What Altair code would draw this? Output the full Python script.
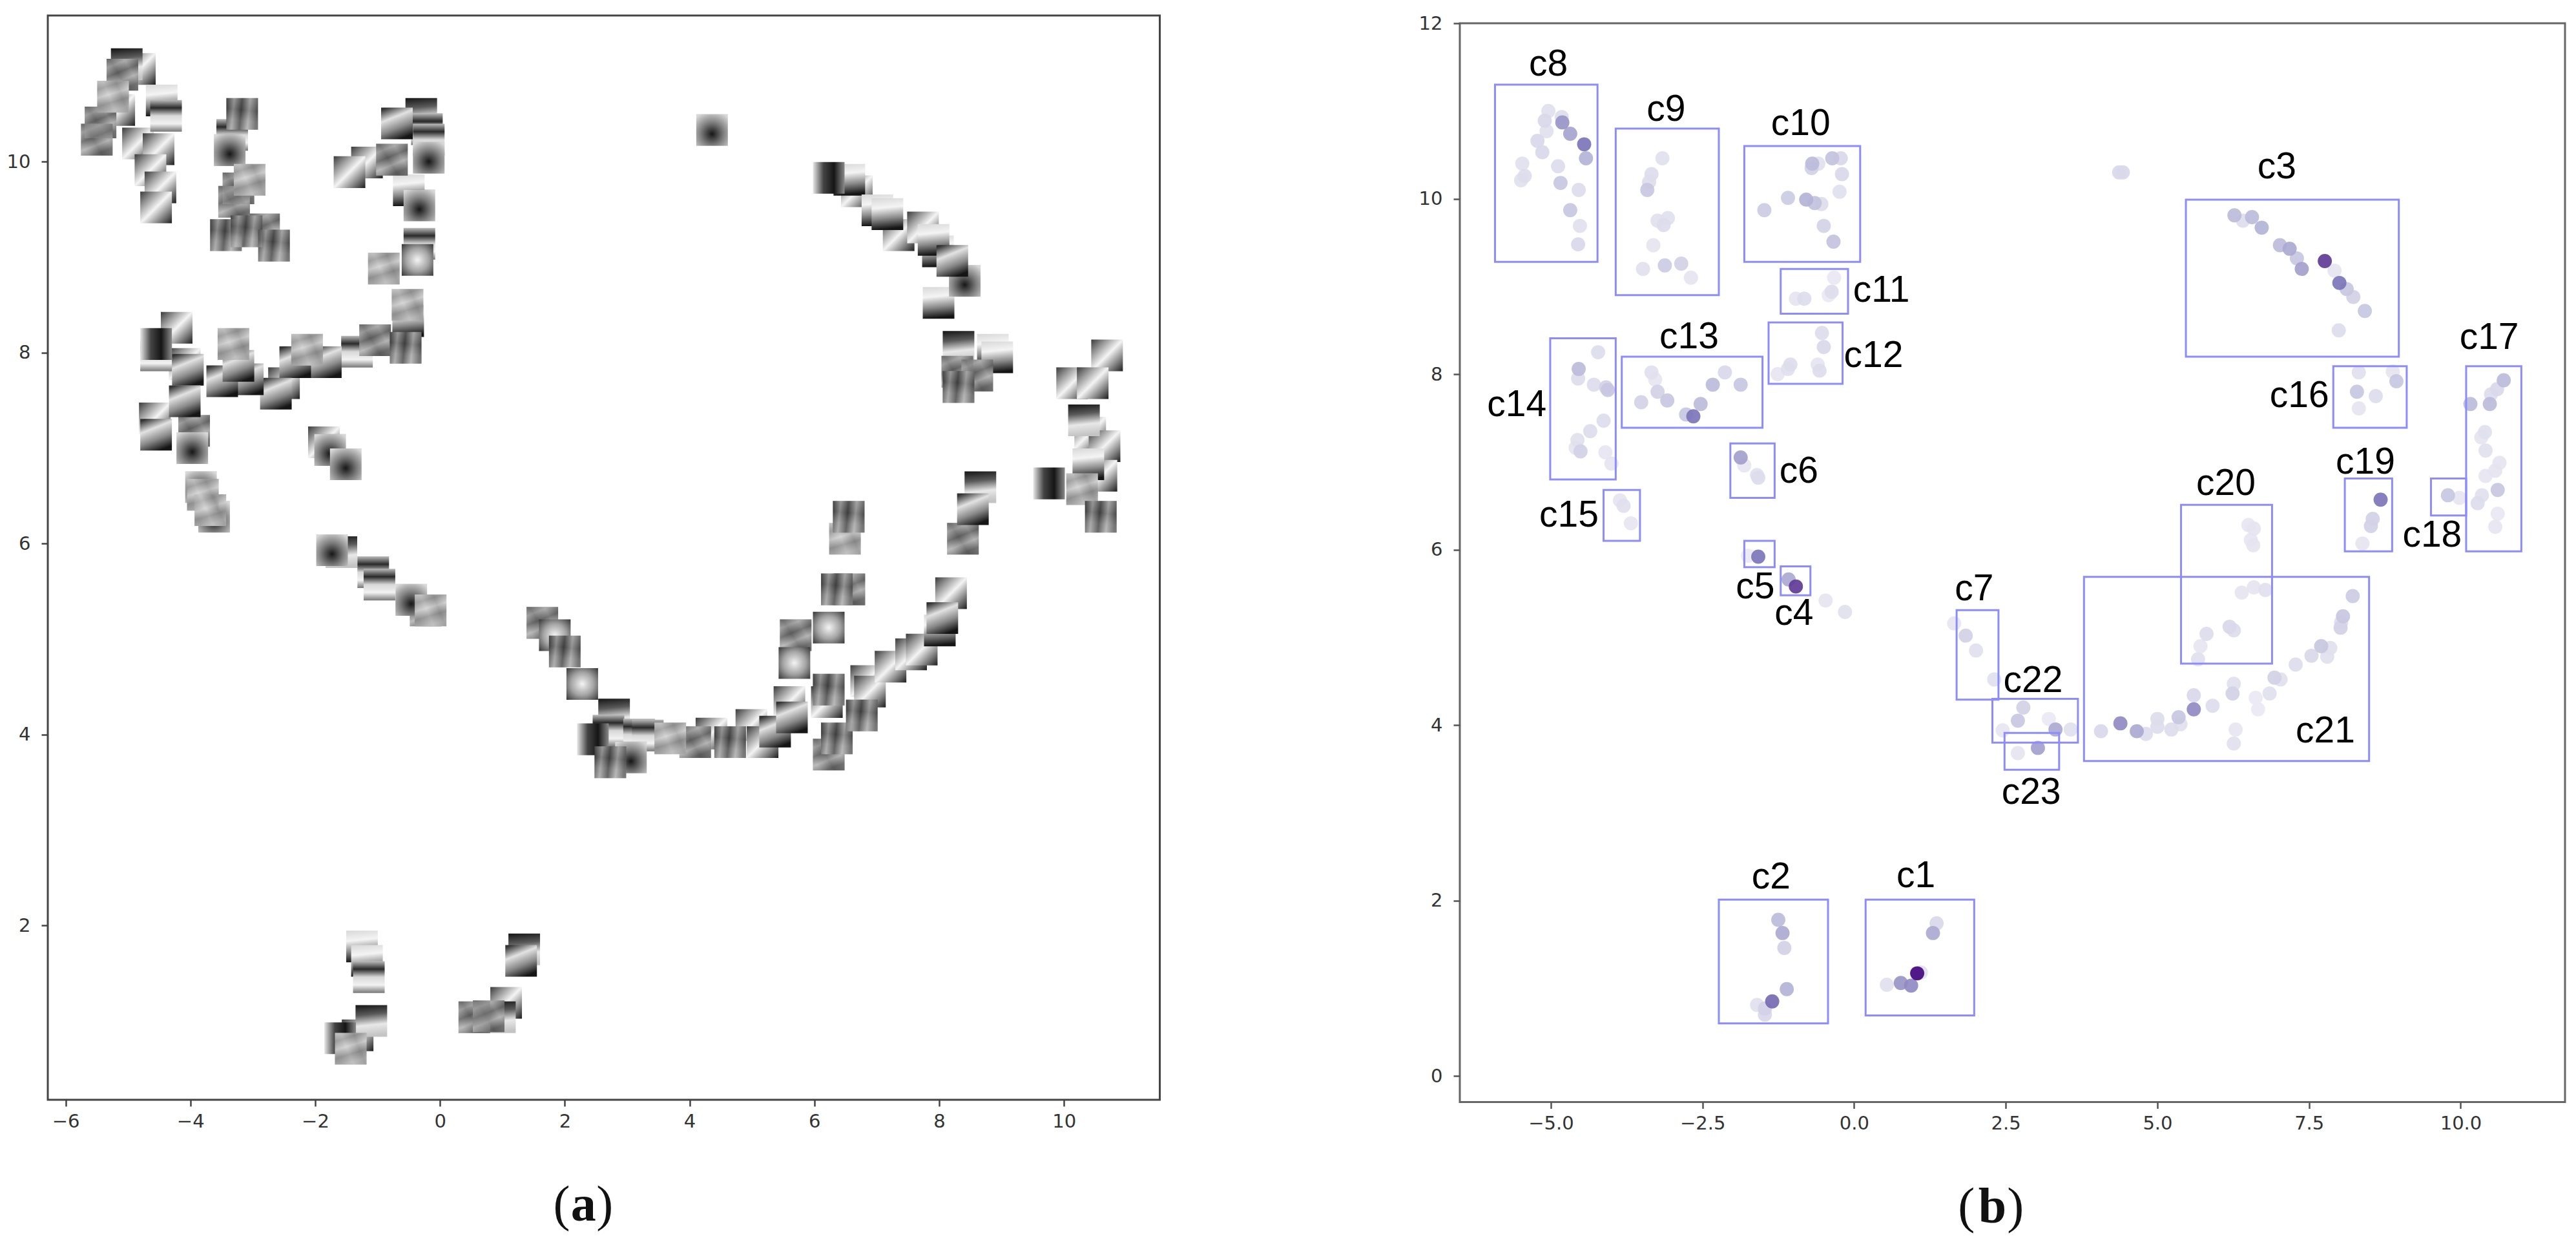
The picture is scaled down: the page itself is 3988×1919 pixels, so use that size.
import altair as alt
import pandas as pd

# ---------- panel (a): image patches in the embedding ----------
patch_x = [-5.02,-4.81,-5.09,-5.24,-4.46,-5.14,-5.44,-4.39,-5.50,-4.84,-4.51,-4.64,-4.48,-4.55,
           -3.17,-3.33,-3.37,-3.05,-3.23,-3.30,-3.43,-3.10,-2.82,-2.66,
           -0.69,-0.30,-0.21,-0.18,-0.18,-0.77,-1.17,-1.45,-0.50,-0.33,-0.33,-0.36,-0.90,-0.52,-0.51,
           -0.55,-1.04,-1.33,-2.13,-1.83,-2.32,-2.50,-2.63,-3.08,-3.49,-3.23,-3.31,
           -4.22,-4.55,-4.55,-4.09,-4.04,-4.09,-4.57,-4.55,-3.94,-3.97,-3.83,-3.80,-3.68,-3.62,
           -1.86,-1.76,-1.51,-1.73,-1.58,-1.07,-0.97,-0.46,-0.23,-0.15,
           1.64,1.84,2.00,2.28,2.79,2.70,2.45,2.73,3.06,3.19,
           -1.25,-1.17,-1.14,-1.10,-1.60,-1.32,-1.43,1.35,1.30,0.55,0.78,0.96,1.06,
           3.33,3.69,4.09,4.35,4.65,4.99,5.17,5.37,5.60,5.64,6.23,6.20,6.36,6.23,5.70,5.68,6.23,
           6.56,6.36,6.83,6.89,6.76,7.22,7.55,7.72,8.01,8.05,8.19,
           4.36,6.23,6.56,6.68,7.01,7.17,7.35,7.74,7.98,7.91,8.21,8.41,7.99,8.31,8.86,8.93,8.29,8.61,8.31,
           10.69,10.13,10.46,10.32,10.42,10.65,10.39,10.60,10.29,9.76,10.59,8.66,8.54,8.38,6.55,6.49]
patch_y = [11.02,10.97,10.91,10.68,10.64,10.54,10.41,10.48,10.23,10.19,10.13,9.91,9.73,9.52,
           10.50,10.28,10.12,9.81,9.72,9.58,9.23,9.27,9.29,9.12,
           10.40,10.50,10.34,10.23,10.04,10.02,9.99,9.89,9.70,9.54,9.14,8.97,8.88,8.50,8.33,
           8.05,8.13,8.01,8.03,7.90,7.90,7.68,7.57,7.72,7.70,7.86,8.09,
           8.26,8.09,7.97,7.88,7.82,7.49,7.31,7.14,7.18,7.00,6.59,6.51,6.35,6.28,
           7.06,6.98,6.83,5.93,5.91,5.70,5.57,5.41,5.30,5.30,
           5.17,5.04,4.87,4.53,4.21,4.04,3.95,3.71,3.76,4.00,
           1.78,1.63,1.46,1.00,0.82,0.85,0.71,1.75,1.63,1.04,1.05,1.04,1.19,
           3.99,3.96,3.92,4.01,3.92,4.10,3.92,4.03,4.34,4.18,4.47,4.34,3.96,3.79,5.04,4.75,5.12,
           5.52,5.52,4.56,4.45,4.20,4.71,4.84,4.89,5.09,5.22,5.48,
           10.33,9.83,9.81,9.69,9.49,9.45,9.23,9.31,9.06,9.18,8.96,8.75,8.52,8.06,8.03,7.95,7.80,7.76,7.64,
           7.97,7.68,7.68,7.29,7.16,7.02,6.83,6.71,6.57,6.63,6.28,6.59,6.36,6.05,6.28,6.05]
patch_tex = [1,0,4,9,2,0,4,3,4,0,0,0,0,0,
             10,3,5,9,4,4,10,10,4,10,
             7,1,3,3,5,4,0,0,2,5,3,6,9,9,2,
             10,4,3,9,7,7,0,7,7,7,7,9,
             0,8,3,0,7,7,0,7,4,5,5,9,9,5,
             0,5,5,5,1,3,3,5,4,9,
             4,6,10,6,1,3,8,10,5,3,
             2,2,3,1,8,0,9,1,7,4,4,1,0,
             3,9,4,0,10,0,0,7,0,7,10,0,10,4,4,6,6,
             4,10,0,0,10,0,0,0,2,7,0,
             5,8,2,0,2,2,0,0,2,2,7,5,2,1,2,2,4,4,10,
             0,0,0,1,0,0,2,0,9,8,10,1,7,4,10,9]

# ---------- panel (b): weighted points ----------
point_x = [-5.04,-4.82,-5.10,-4.81,-5.07,-4.68,-5.22,-4.45,-5.14,-4.42,-5.47,-4.88,-5.43,-5.49,-4.84,-4.54,-4.68,-4.52,-4.55,
           -3.16,-3.34,-3.38,-3.41,-3.07,-3.24,-3.14,-3.31,-3.12,-3.48,-2.85,-2.69,
           -0.59,-0.69,-0.70,-0.36,-0.22,-0.20,-0.24,-1.09,-0.79,-0.65,-0.54,-1.48,-0.50,-0.34,
           -0.33,-0.37,-0.42,-0.96,-0.82,
           -0.53,-0.50,-1.05,-1.09,-1.26,-0.60,-0.57,
           -3.34,-3.28,-3.24,-3.51,-3.08,-2.77,-2.65,-2.53,-2.33,-2.13,-1.87,
           -4.22,-4.54,-4.55,-4.29,-4.09,-4.06,-4.13,-4.35,-4.56,-4.59,-4.51,-4.10,-4.00,
           -1.87,-1.81,-1.58,-1.60,-3.86,-3.80,-3.68,-1.58,-1.75,-1.08,-0.96,-0.47,-0.15,
           1.65,1.84,2.01,2.31,
           2.79,2.70,2.45,3.21,3.32,3.57,3.03,2.70,
           4.07,4.39,4.66,4.81,5.00,5.00,5.23,5.38,5.35,5.60,5.60,5.91,6.24,6.26,6.29,6.26,6.62,6.66,6.85,6.93,7.03,7.28,7.54,7.70,7.85,7.80,8.02,8.03,8.06,8.22,
           6.50,6.59,6.54,6.58,6.39,6.59,6.78,6.19,6.26,5.81,5.71,5.67,
           8.68,8.55,8.52,8.38,9.79,9.98,
           4.37,4.43,
           6.27,6.41,6.56,6.72,7.02,7.18,7.30,7.38,7.76,7.92,8.00,8.12,8.23,8.42,7.99,
           8.32,8.88,8.94,8.29,8.60,8.32,
           10.71,10.60,10.50,10.48,10.16,10.40,10.34,10.41,10.64,10.57,10.41,10.61,10.35,10.28,10.61,10.57,
           -1.25,-1.18,-1.15,-1.11,-1.35,-1.60,-1.47,-1.47,
           1.36,1.30,0.54,0.77,0.94,1.10,1.04]
point_y = [11.00,10.93,10.89,10.87,10.77,10.74,10.66,10.62,10.53,10.46,10.40,10.37,10.26,10.21,10.18,10.10,9.87,9.69,9.48,
           10.46,10.28,10.19,10.10,9.78,9.75,9.70,9.47,9.24,9.20,9.26,9.10,
           10.40,10.40,10.35,10.46,10.46,10.28,10.08,10.01,9.99,9.95,9.94,9.87,9.69,9.51,
           9.10,8.94,8.90,8.86,8.86,
           8.47,8.31,8.11,8.06,8.00,8.11,8.04,
           8.02,7.94,7.80,7.68,7.70,7.54,7.52,7.66,7.88,8.02,7.88,
           8.25,8.06,7.95,7.88,7.85,7.82,7.47,7.35,7.25,7.16,7.12,7.11,6.98,
           7.05,6.96,6.82,6.85,6.56,6.50,6.30,5.92,5.93,5.66,5.58,5.42,5.29,
           5.16,5.02,4.85,4.52,
           4.20,4.05,3.94,4.07,3.95,3.95,3.74,3.68,
           3.93,4.02,3.93,3.90,3.98,4.07,3.95,4.01,4.09,4.18,4.34,4.22,4.36,4.47,3.95,3.79,4.31,4.18,4.36,4.54,4.52,4.69,4.79,4.90,4.88,4.78,5.11,5.17,5.24,5.47,
           6.28,6.24,6.11,6.05,5.51,5.57,5.54,5.12,5.08,5.04,4.90,4.75,
           6.57,6.35,6.27,6.07,6.62,6.59,
           10.30,10.30,
           9.81,9.75,9.79,9.67,9.47,9.43,9.32,9.20,9.29,9.18,9.04,8.97,8.88,8.72,8.50,
           8.02,8.03,7.92,7.80,7.75,7.61,
           7.93,7.83,7.77,7.66,7.66,7.34,7.28,7.13,6.99,6.90,6.84,6.68,6.62,6.53,6.41,6.26,
           1.78,1.63,1.46,0.99,0.85,0.81,0.77,0.70,
           1.74,1.63,1.04,1.06,1.03,1.18,1.17]
point_weight = [.08,.10,.12,.45,.08,.38,.12,.60,.12,.30,.08,.10,.10,.08,.20,.10,.20,.08,.12,
                .08,.10,.10,.20,.08,.08,.10,.06,.18,.08,.15,.06,
                .08,.25,.15,.22,.12,.12,.08,.18,.30,.22,.10,.18,.14,.22,
                .04,.10,.03,.06,.10,
                .10,.12,.10,.08,.05,.06,.10,
                .08,.05,.15,.14,.20,.20,.60,.25,.25,.12,.20,
                .10,.25,.10,.10,.15,.20,.10,.10,.08,.06,.15,.05,.06,
                .40,.05,.10,.08,.06,.08,.05,.60,.03,.35,.85,.06,.08,
                .05,.15,.08,.08,
                .15,.20,.05,.03,.35,.08,.40,.06,
                .12,.50,.35,.10,.10,.10,.10,.08,.20,.50,.12,.10,.15,.08,.05,.08,.03,.03,.08,.15,.08,.10,.12,.20,.08,.08,.15,.10,.20,.18,
                .05,.06,.05,.06,.06,.06,.08,.12,.10,.10,.05,.08,
                .60,.15,.15,.06,.20,.05,
                .12,.12,
                .25,.10,.25,.30,.25,.35,.20,.40,.85,.06,.60,.20,.15,.20,.10,
                .08,.06,.20,.20,.10,.06,
                .25,.12,.10,.25,.25,.08,.06,.08,.06,.06,.05,.20,.08,.10,.04,.05,
                .25,.35,.15,.30,.65,.08,.15,.12,
                .12,.35,.08,.45,.50,.08,1.0]

# ---------- panel (b): cluster boxes and labels ----------
box_name = ["c8","c9","c10","c11","c12","c13","c14","c6","c15","c5","c4","c7","c22","c23","c21","c20","c19","c18","c17","c3","c16","c2","c1"]
box_x0 = [-5.92,-3.93,-1.81,-1.21,-1.41,-3.83,-5.01,-2.04,-4.13,-1.81,-1.21,1.69,2.28,2.48,3.79,5.39,8.09,9.51,10.09,5.47,7.90,-2.23,0.19]
box_x1 = [-4.23,-2.23,0.10,-0.10,-0.19,-1.51,-3.93,-1.31,-3.53,-1.31,-0.72,2.38,3.69,3.38,8.49,6.89,8.87,10.09,11.00,8.98,9.11,-0.43,1.98]
box_y0 = [9.28,8.90,9.28,8.69,7.89,7.39,6.80,6.59,6.10,5.80,5.48,4.29,3.80,3.49,3.59,4.70,5.98,6.39,5.98,8.20,7.39,0.60,0.69]
box_y1 = [11.30,10.80,10.60,9.20,8.59,8.20,8.41,7.21,6.68,6.10,5.81,5.31,4.30,3.91,5.69,6.51,6.81,6.81,8.09,9.99,8.09,2.01,2.01]
label_x = [-5.04,-3.10,-0.88,0.45,0.32,-2.72,-5.56,-0.91,-4.70,-1.63,-0.99,1.98,2.95,2.92,7.77,6.13,8.43,9.53,10.47,6.97,7.34,-1.37,1.02]
label_y = [11.53,11.01,10.85,8.95,8.21,8.42,7.65,6.89,6.39,5.57,5.27,5.55,4.50,3.23,3.93,6.75,6.99,6.16,8.41,10.36,7.75,2.26,2.28]

# ---------- captions ----------
caption_a_x = [1.95, 2.30, 2.64]
caption_a_y = [-1.09, -1.09, -1.09]
caption_b_x = [1.85, 2.28, 2.66]
caption_b_y = [-1.67, -1.67, -1.67]

a_x_ticks = [-6, -4, -2, 0, 2, 4, 6, 8, 10]
a_y_ticks = [2, 4, 6, 8, 10]
b_x_ticks = [-5.0, -2.5, 0.0, 2.5, 5.0, 7.5, 10.0]
b_y_ticks = [0, 2, 4, 6, 8, 10, 12]

PATCH_W, PATCH_H = 0.507, 0.332


def lin(x1, y1, x2, y2, greys):
    n = len(greys) - 1
    return alt.LinearGradient(
        gradient="linear", x1=x1, y1=y1, x2=x2, y2=y2,
        stops=[alt.GradientStop(offset=i / n, color=c) for i, c in enumerate(greys)])


def rad(cy, inner, mid, outer):
    return alt.RadialGradient(
        gradient="radial", x1=0.5, y1=cy, x2=0.5, y2=cy, r1=0, r2=0.72,
        stops=[alt.GradientStop(offset=0, color=inner),
               alt.GradientStop(offset=0.5, color=mid),
               alt.GradientStop(offset=1, color=outer)])


TEXTURES = {
    0: lin(0, 0, 1, 1, ["#3a3a3a", "#9a9a9a", "#f4f4f4", "#8a8a8a", "#1c1c1c"]),
    1: lin(0, 0, 0.1, 1, ["#141414", "#5a5a5a", "#e8e8e8", "#c4c4c4"]),
    2: lin(0, 0, 0.1, 1, ["#d8d8d8", "#f4f4f4", "#8c8c8c", "#151515"]),
    3: lin(0, 0, 0, 1, ["#bcbcbc", "#2a2a2a", "#d8d8d8", "#f2f2f2", "#777777"]),
    4: lin(0, 0, 0.4, 1, ["#6a6a6a", "#a8a8a8", "#5c5c5c", "#b4b4b4", "#5a5a5a"]),
    5: rad(0.62, "#161616", "#7e7e7e", "#d8d8d8"),
    6: rad(0.5, "#f4f4f4", "#a4a4a4", "#303030"),
    7: lin(0.2, 0, 0.6, 1, ["#333333", "#e2e2e2", "#8a8a8a", "#151515"]),
    8: lin(0, 0, 1, 0, ["#e8e8e8", "#444444", "#151515", "#8a8a8a"]),
    9: lin(0, 0, 0.3, 1, ["#c4c4c4", "#949494", "#d4d4d4", "#8a8a8a", "#b4b4b4"]),
    10: lin(0, 0, 1, 0.1, ["#2a2a2a", "#a0a0a0", "#3a3a3a", "#b0b0b0", "#555555"]),
}
# a second, fainter wash across the noisy patches gives them their mottled look
OVERLAYS = {
    4: lin(1, 0, 0, 0.6, ["#444444", "#bbbbbb", "#555555", "#cccccc"]),
    9: lin(1, 0.1, 0, 0.5, ["#dddddd", "#777777", "#dddddd", "#999999"]),
    10: lin(0.1, 0, 0, 1, ["#888888", "#444444", "#bbbbbb", "#dddddd"]),
}

TICK = dict(tickSize=10, labelFont="DejaVu Sans", labelFontSize=29, labelColor="#333333",
            grid=False, domain=False, title=None)

a_xscale = alt.Scale(domain=[-6.285, 11.535], nice=False, zero=False)
a_yscale = alt.Scale(domain=[0.175, 11.53], nice=False, zero=False)
b_xscale = alt.Scale(domain=[-6.50, 11.72], nice=False, zero=False)
b_yscale = alt.Scale(domain=[-0.297, 12.0], nice=False, zero=False)

a_xaxis = alt.Axis(values=a_x_ticks, tickColor="#444444", tickWidth=2.5, labelPadding=9, **TICK)
a_yaxis = alt.Axis(values=a_y_ticks, tickColor="#444444", tickWidth=2.5, labelPadding=17,
                   minExtent=60, maxExtent=60, **TICK)
b_xaxis = alt.Axis(values=b_x_ticks, format=".1f", tickColor="#555555", tickWidth=2.5, labelPadding=9, **TICK)
b_yaxis = alt.Axis(values=b_y_ticks, tickColor="#555555", tickWidth=2.5, labelPadding=17,
                   minExtent=60, maxExtent=60, **TICK)

patches = pd.DataFrame({"x": patch_x, "y": patch_y, "tex": patch_tex})
patches["x0"] = patches.x - PATCH_W / 2
patches["x1"] = patches.x + PATCH_W / 2
patches["y0"] = patches.y - PATCH_H / 2
patches["y1"] = patches.y + PATCH_H / 2

a_layers = []
for key, grad in TEXTURES.items():
    sub = patches[patches.tex == key][["x0", "x1", "y0", "y1"]]
    enc = dict(x=alt.X("x0:Q", scale=a_xscale, axis=a_xaxis), x2="x1:Q",
               y=alt.Y("y0:Q", scale=a_yscale, axis=a_yaxis), y2="y1:Q")
    a_layers.append(alt.Chart(sub).mark_rect(fill=grad).encode(**enc))
    if key in OVERLAYS:
        a_layers.append(alt.Chart(sub).mark_rect(fill=OVERLAYS[key], opacity=0.3).encode(**enc))


def caption(xs, ys, letter, xscale, yscale, xaxis, yaxis):
    df = pd.DataFrame({"x": xs, "y": ys, "t": ["(", letter, ")"], "bold": [False, True, False]})
    enc = dict(x=alt.X("x:Q", scale=xscale, axis=xaxis), y=alt.Y("y:Q", scale=yscale, axis=yaxis), text="t:N")
    reg = alt.Chart(df[~df.bold]).mark_text(font="Liberation Serif", fontSize=78, color="#111111",
                                            align="center", baseline="alphabetic").encode(**enc)
    bld = alt.Chart(df[df.bold]).mark_text(font="Liberation Serif", fontSize=78, fontWeight="bold", color="#111111",
                                           align="center", baseline="alphabetic").encode(**enc)
    return [reg, bld]


panel_a = alt.layer(*a_layers, *caption(caption_a_x, caption_a_y, "a", a_xscale, a_yscale, a_xaxis, a_yaxis)).properties(
    width=1721.5, height=1678,
    view=alt.ViewBackground(stroke="#444444", strokeWidth=3, fill="white"))

points = pd.DataFrame({"x": point_x, "y": point_y, "w": point_weight}).sort_values("w")
point_layer = alt.Chart(points).mark_circle(size=480, opacity=0.92).encode(
    x=alt.X("x:Q", scale=b_xscale, axis=b_xaxis),
    y=alt.Y("y:Q", scale=b_yscale, axis=b_yaxis),
    color=alt.Color("w:Q", legend=None, scale=alt.Scale(
        domain=[0, .1, .25, .4, .6, .85, 1],
        range=["#f0eff7", "#dddcec", "#bcbcdb", "#a3a0cc", "#7d75b8", "#5f3b96", "#43077f"])),
    order=alt.Order("w:Q"))

boxes = pd.DataFrame({"n": box_name, "x0": box_x0, "x1": box_x1, "y0": box_y0, "y1": box_y1,
                      "lx": label_x, "ly": label_y})
box_layer = alt.Chart(boxes).mark_rect(fillOpacity=0, stroke="#8c8cff", strokeWidth=3).encode(
    x=alt.X("x0:Q", scale=b_xscale, axis=b_xaxis), x2="x1:Q",
    y=alt.Y("y0:Q", scale=b_yscale, axis=b_yaxis), y2="y1:Q")
label_layer = alt.Chart(boxes).mark_text(font="Liberation Sans", fontSize=57, color="black",
                                         align="center", baseline="middle").encode(
    x=alt.X("lx:Q", scale=b_xscale, axis=b_xaxis),
    y=alt.Y("ly:Q", scale=b_yscale, axis=b_yaxis),
    text="n:N")

panel_b = alt.layer(point_layer, box_layer, label_layer,
                    *caption(caption_b_x, caption_b_y, "b", b_xscale, b_yscale, b_xaxis, b_yaxis)).properties(
    width=1711, height=1669.5,
    view=alt.ViewBackground(stroke="#666666", strokeWidth=3, fill="white"))

# an empty sliver above panel (b) sets its frame a little lower than panel (a)'s
spacer = alt.Chart(pd.DataFrame({"s": [0]})).mark_point(opacity=0).encode(
    x=alt.value(0), y=alt.value(0)).properties(
    width=1711, height=1, view=alt.ViewBackground(stroke=None))

chart = alt.hconcat(panel_a, alt.vconcat(spacer, panel_b, spacing=-7), spacing=397).properties(
    padding={"left": 0, "top": 12, "right": 2, "bottom": 2}, background="white")

chart.save("out.html", embed_options={"renderer": "svg", "actions": False})
